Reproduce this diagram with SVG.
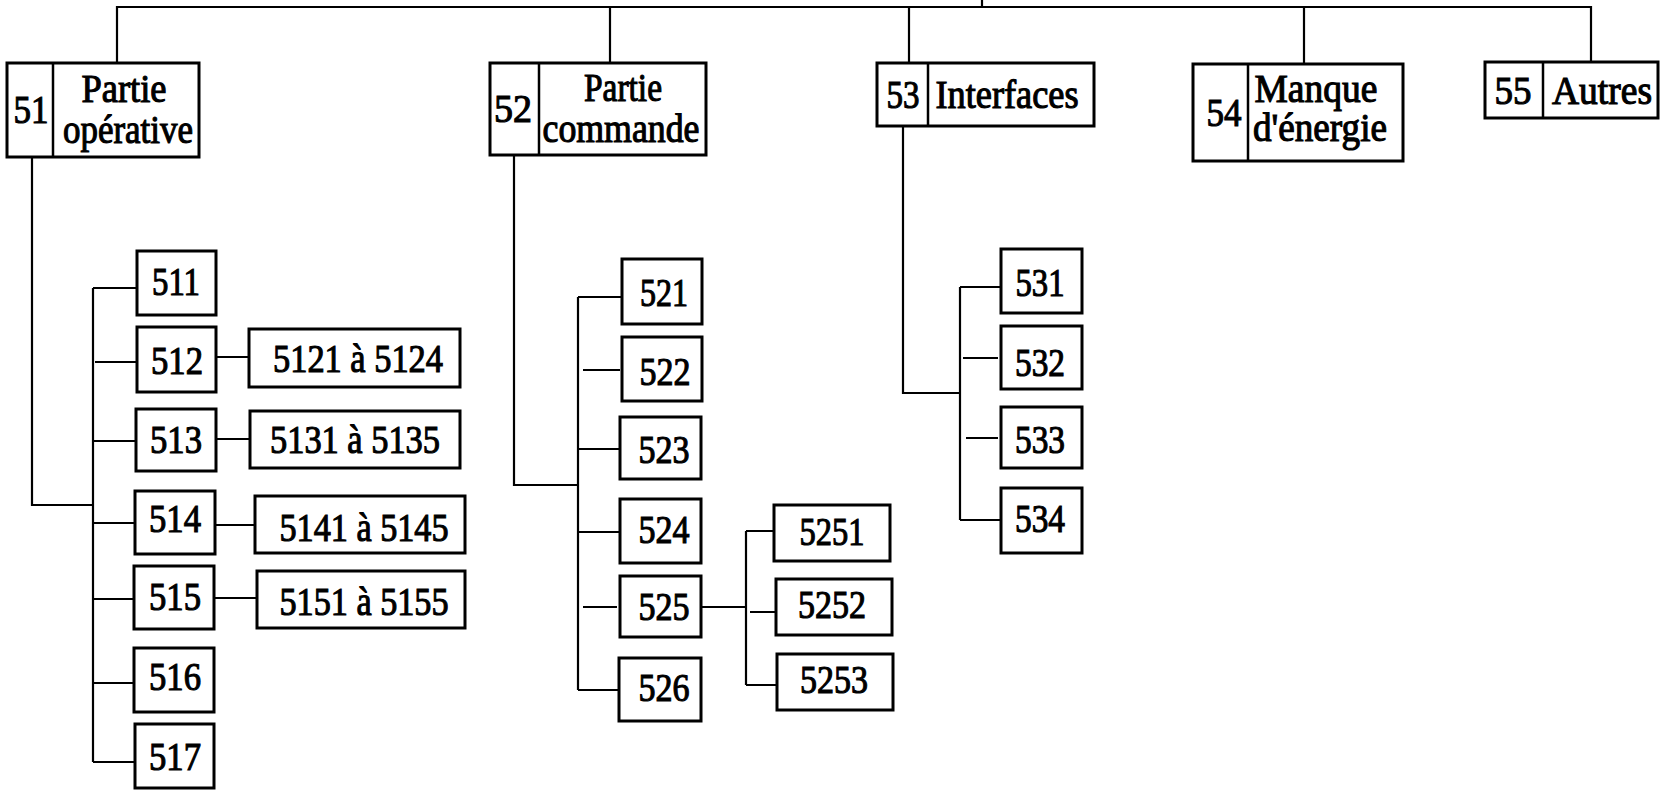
<svg xmlns="http://www.w3.org/2000/svg" width="1667" height="792" viewBox="0 0 1667 792">
<style>
.b{fill:#fff;stroke:#000;stroke-width:3}
.d{stroke:#000;stroke-width:2.5}
.c{fill:none;stroke:#000;stroke-width:2.2}
text{font-family:"Liberation Serif","Times New Roman",serif;font-size:39px;fill:#000;text-anchor:middle;stroke:#000;stroke-width:1.1}
</style>
<rect width="1667" height="792" fill="#fff"/>
<g id="connectors">
<path class="c" d="M117,63 V7 H1591 V61 M610,6 V63 M909,6 V63 M1304,6 V64 M982,0 V6"/>
<path class="c" d="M32,157 V505 H93 M93,288 V762 M93,288 H137 M95,362 H137 M93,441 H136 M93,523 H135 M93,599 H134 M93,683 H134 M93,762 H135"/>
<path class="c" d="M216,357 H249 M216,439 H250 M215,525 H255 M214,598 H257"/>
<path class="c" d="M514,155 V485 H578 M578,297 V690 M578,297 H622 M583,370 H620 M578,449 H620 M578,532 H620 M583,607 H617 M578,690 H619"/>
<path class="c" d="M701,607 H746 M746,531 V685 M746,531 H774 M750,612 H776 M746,685 H777"/>
<path class="c" d="M903,126 V393 H960 M960,287 V520 M960,287 H1001 M963,358 H998 M966,438 H998 M960,520 H1001"/>
</g>
<g id="n51"><rect class="b" x="7" y="63" width="192" height="94"/><line class="d" x1="53" y1="63" x2="53" y2="157"/><text x="31" y="123" textLength="35" lengthAdjust="spacingAndGlyphs">51</text><text x="124" y="102" textLength="85" lengthAdjust="spacingAndGlyphs">Partie</text><text x="128" y="143" textLength="130" lengthAdjust="spacingAndGlyphs">opérative</text></g>
<g id="n52"><rect class="b" x="490" y="63" width="216" height="92"/><line class="d" x1="539" y1="63" x2="539" y2="155"/><text x="513" y="122" textLength="38" lengthAdjust="spacingAndGlyphs">52</text><text x="623" y="101" textLength="78" lengthAdjust="spacingAndGlyphs">Partie</text><text x="621" y="142" textLength="157" lengthAdjust="spacingAndGlyphs">commande</text></g>
<g id="n53"><rect class="b" x="877" y="63" width="217" height="63"/><line class="d" x1="928" y1="63" x2="928" y2="126"/><text x="903" y="108" textLength="33" lengthAdjust="spacingAndGlyphs">53</text><text x="1007" y="108" textLength="143" lengthAdjust="spacingAndGlyphs">Interfaces</text></g>
<g id="n54"><rect class="b" x="1193" y="64" width="210" height="97"/><line class="d" x1="1248" y1="64" x2="1248" y2="161"/><text x="1224" y="126" textLength="35" lengthAdjust="spacingAndGlyphs">54</text><text x="1316" y="102" textLength="123" lengthAdjust="spacingAndGlyphs">Manque</text><text x="1320" y="141" textLength="134" lengthAdjust="spacingAndGlyphs">d'énergie</text></g>
<g id="n55"><rect class="b" x="1485" y="62" width="173" height="56"/><line class="d" x1="1543" y1="62" x2="1543" y2="118"/><text x="1513" y="104" textLength="37" lengthAdjust="spacingAndGlyphs">55</text><text x="1602" y="104" textLength="100" lengthAdjust="spacingAndGlyphs">Autres</text></g>
<g id="n511"><rect class="b" x="137" y="251" width="79" height="64"/><text x="176" y="295" textLength="48" lengthAdjust="spacingAndGlyphs">511</text></g>
<g id="n512"><rect class="b" x="137" y="327" width="79" height="65"/><text x="177" y="374" textLength="52" lengthAdjust="spacingAndGlyphs">512</text></g>
<g id="n513"><rect class="b" x="136" y="409" width="80" height="62"/><text x="176" y="453" textLength="52" lengthAdjust="spacingAndGlyphs">513</text></g>
<g id="n514"><rect class="b" x="135" y="491" width="80" height="63"/><text x="175" y="532" textLength="52" lengthAdjust="spacingAndGlyphs">514</text></g>
<g id="n515"><rect class="b" x="134" y="566" width="80" height="63"/><text x="175" y="610" textLength="52" lengthAdjust="spacingAndGlyphs">515</text></g>
<g id="n516"><rect class="b" x="134" y="648" width="80" height="64"/><text x="175" y="690" textLength="52" lengthAdjust="spacingAndGlyphs">516</text></g>
<g id="n517"><rect class="b" x="135" y="724" width="79" height="64"/><text x="175" y="770" textLength="52" lengthAdjust="spacingAndGlyphs">517</text></g>
<g id="n5121"><rect class="b" x="249" y="329" width="211" height="58"/><text x="358" y="372" textLength="170" lengthAdjust="spacingAndGlyphs">5121 à 5124</text></g>
<g id="n5131"><rect class="b" x="250" y="411" width="210" height="57"/><text x="355" y="453" textLength="170" lengthAdjust="spacingAndGlyphs">5131 à 5135</text></g>
<g id="n5141"><rect class="b" x="255" y="496" width="210" height="57"/><text x="364" y="541" textLength="169" lengthAdjust="spacingAndGlyphs">5141 à 5145</text></g>
<g id="n5151"><rect class="b" x="257" y="571" width="208" height="57"/><text x="364" y="615" textLength="169" lengthAdjust="spacingAndGlyphs">5151 à 5155</text></g>
<g id="n521"><rect class="b" x="622" y="259" width="80" height="65"/><text x="664" y="306" textLength="48" lengthAdjust="spacingAndGlyphs">521</text></g>
<g id="n522"><rect class="b" x="622" y="337" width="80" height="64"/><text x="665" y="385" textLength="51" lengthAdjust="spacingAndGlyphs">522</text></g>
<g id="n523"><rect class="b" x="620" y="417" width="81" height="62"/><text x="664" y="463" textLength="51" lengthAdjust="spacingAndGlyphs">523</text></g>
<g id="n524"><rect class="b" x="620" y="499" width="81" height="64"/><text x="664" y="543" textLength="51" lengthAdjust="spacingAndGlyphs">524</text></g>
<g id="n525"><rect class="b" x="620" y="576" width="81" height="61"/><text x="664" y="620" textLength="51" lengthAdjust="spacingAndGlyphs">525</text></g>
<g id="n526"><rect class="b" x="619" y="658" width="82" height="63"/><text x="664" y="701" textLength="51" lengthAdjust="spacingAndGlyphs">526</text></g>
<g id="n5251"><rect class="b" x="774" y="505" width="116" height="56"/><text x="832" y="545" textLength="65" lengthAdjust="spacingAndGlyphs">5251</text></g>
<g id="n5252"><rect class="b" x="776" y="579" width="116" height="56"/><text x="832" y="618" textLength="68" lengthAdjust="spacingAndGlyphs">5252</text></g>
<g id="n5253"><rect class="b" x="777" y="654" width="116" height="56"/><text x="834" y="693" textLength="68" lengthAdjust="spacingAndGlyphs">5253</text></g>
<g id="n531"><rect class="b" x="1001" y="249" width="81" height="64"/><text x="1040" y="296" textLength="49" lengthAdjust="spacingAndGlyphs">531</text></g>
<g id="n532"><rect class="b" x="1001" y="326" width="81" height="63"/><text x="1040" y="376" textLength="50" lengthAdjust="spacingAndGlyphs">532</text></g>
<g id="n533"><rect class="b" x="1001" y="407" width="81" height="61"/><text x="1040" y="453" textLength="50" lengthAdjust="spacingAndGlyphs">533</text></g>
<g id="n534"><rect class="b" x="1001" y="488" width="81" height="65"/><text x="1040" y="532" textLength="50" lengthAdjust="spacingAndGlyphs">534</text></g>
</svg>
